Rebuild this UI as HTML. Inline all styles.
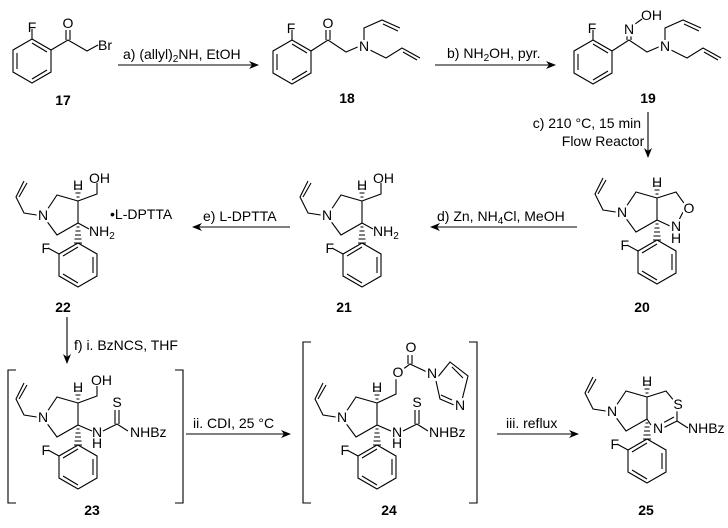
<!DOCTYPE html>
<html><head><meta charset="utf-8"><style>
html,body{margin:0;padding:0;background:#fff}
svg{display:block}
text{font-family:"Liberation Sans",Arial,sans-serif;font-size:14px;fill:#000}
.b{font-weight:bold}
.m{text-anchor:middle}
.e{text-anchor:end}
.at{paint-order:stroke;stroke:#fff;stroke-width:5px;stroke-linejoin:round}
</style></head><body>
<svg width="728" height="528" viewBox="0 0 728 528" xmlns="http://www.w3.org/2000/svg">
<defs>
<marker id="ah" markerWidth="10" markerHeight="8" refX="9" refY="4" orient="auto" markerUnits="userSpaceOnUse"><path d="M0,0 L10,4 L0,8 L3,4 Z" fill="#000"/></marker>
<g id="arA" fill="none" stroke="#000" stroke-width="1.1">
<path d="M0,-22 L19,-11 L19,11 L0,22 L-19,11 L-19,-11 Z"/>
<path d="M-15,-8 L-15,8 M0,18 L15,9 M0,-18 L15,-9"/>
<path d="M0,-22 L0,-32"/>
</g>
<g id="arB" fill="none" stroke="#000" stroke-width="1.1">
<path d="M0,-22 L19,-11 L19,11 L0,22 L-19,11 L-19,-11 Z"/>
<path d="M15,-8 L15,8 M0,18 L-15,9 M0,-18 L-15,-9"/>
<path d="M-19,-11 L-30,-17"/>
</g>
<g id="pyr" fill="none" stroke="#000" stroke-width="1.1">
<path d="M0,0 L0,-22 L-21,-28 L-35,-7 L-21,12 Z"/>
<path d="M-35,-7 L-54,-10 L-62,-26 L-54,-42 M-59,-26 L-51,-40"/>
<path d="M-1.5,4 L1.5,4 M-2.5,8 L2.5,8 M-3,12 L3,12 M-3.5,16 L3.5,16 M-4,20 L4,20" stroke-width="1"/>
<path d="M-1.5,-26 L1.5,-26 M-2.5,-30 L2.5,-30 M-3,-34 L3,-34" stroke-width="1"/>
</g>
</defs>

<g fill="none" stroke="#000" stroke-width="1.1">
<use href="#arA" x="32" y="61"/>
<path d="M51,50 L68,40 L87,51 L98,45 M66,40 L66,30 M70,40 L70,30"/>
<use href="#arA" x="292" y="62"/>
<path d="M311,51 L328,40 L346,52 L360,46 M326,40 L326,30 M330,40 L330,30"/>
<path d="M364,40 L364,28 L382,20 L400,28 M383,24 L398,31 M370,50 L386,58 L402,48 L420,58 M403,52 L417,60"/>
<use href="#arA" x="593" y="62"/>
<path d="M612,51 L629,40 L647,52 L661,46 M627,40 L627,32 M631,40 L631,32 M635,24 L642,19"/>
<path d="M665,40 L665,28 L683,20 L701,28 M684,24 L699,31 M671,50 L687,58 L703,48 L721,58 M704,52 L718,60"/>
<path d="M118,65 L258,65" marker-end="url(#ah)"/>
<path d="M435,65 L555,65" marker-end="url(#ah)"/>
<path d="M648,112 L648,157" marker-end="url(#ah)"/>
<path d="M577,227 L431,227" marker-end="url(#ah)"/>
<path d="M290,227 L193,227" marker-end="url(#ah)"/>
<path d="M67,317 L67,363" marker-end="url(#ah)"/>
<path d="M186,434 L290,434" marker-end="url(#ah)"/>
<path d="M497,434 L578,434" marker-end="url(#ah)"/>

<use href="#pyr" x="657" y="220"/>
<use href="#arB" x="657" y="262"/>
<path d="M657,198 L676,192 L686,206 L678,222 M670,226 L657,220"/>
<use href="#pyr" x="362" y="223"/>
<use href="#arB" x="362" y="265"/>
<path d="M362,201 L381,194 L381,183 M362,223 L373,229"/>
<use href="#pyr" x="78" y="223"/>
<use href="#arB" x="78" y="265"/>
<path d="M78,201 L97,194 L97,183 M78,223 L89,229"/>
<use href="#pyr" x="78" y="425"/>
<use href="#arB" x="78" y="467"/>
<path d="M78,403 L97,396 L97,386 M78,425 L92,431 M103,431 L117,424 L128,431 M115,424 L115,410 M119,424 L119,410"/>
<path d="M16,370 L8,370 L8,503 L16,503 M175,370 L183,370 L183,503 L175,503"/>
<use href="#pyr" x="377" y="425"/>
<use href="#arB" x="377" y="467"/>
<path d="M377,403 L396,394 L396,379 M402,370 L410,364 L427,372 M408,364 L408,355 M412,364 L412,355"/>
<path d="M437,378 L450,362 L468,376 L462,400 M452,367 L463,378 M454,405 L440,399 L436,381 M441,395 L452,400"/>
<path d="M377,425 L391,431 M403,431 L417,424 L428,431 M415,424 L415,410 M419,424 L419,410"/>
<path d="M311,342 L303,342 L303,503 L311,503 M469,342 L477,342 L477,503 L469,503"/>
<use href="#pyr" x="647" y="419"/>
<use href="#arB" x="647" y="461"/>
<path d="M647,397 L666,391 L675,402 M677,411 L677,421 L663,428 M674,417 L663,423 M647,419 L651,425 M677,421 L688,428"/>
</g>

<g>
<text class="m" x="32" y="32">F</text>
<text class="m" x="68" y="28">O</text>
<text x="98" y="50">Br</text>
<text class="m" x="291" y="33">F</text>
<text class="m" x="328" y="28">O</text>
<text class="m at" x="364" y="51">N</text>
<text class="m" x="592" y="33">F</text>
<text class="m at" x="629" y="34">N</text>
<text x="641" y="20">OH</text>
<text class="m at" x="665" y="51">N</text>

<text class="m at" x="622" y="217">N</text>
<text class="m" x="657" y="187">H</text>
<text class="m at" x="689" y="213">O</text>
<text class="m at" x="676" y="231">N</text>
<text class="m" x="676" y="243">H</text>
<text class="e" x="629" y="250">F</text>

<text class="m at" x="327" y="220">N</text>
<text class="m" x="362" y="190">H</text>
<text x="373" y="183">OH</text>
<text x="373" y="236">NH<tspan font-size="10" dy="3">2</tspan></text>
<text class="e" x="334" y="253">F</text>

<text class="m at" x="43" y="220">N</text>
<text class="m" x="78" y="190">H</text>
<text x="89" y="183">OH</text>
<text x="89" y="236">NH<tspan font-size="10" dy="3">2</tspan></text>
<text x="110" y="219">•L-DPTTA</text>
<text class="e" x="50" y="253">F</text>

<text class="m at" x="43" y="422">N</text>
<text class="m" x="78" y="392">H</text>
<text x="91" y="385">OH</text>
<text class="m" x="97" y="437">N</text>
<text class="m" x="97" y="448">H</text>
<text class="m" x="117" y="407">S</text>
<text x="130" y="437">NHBz</text>
<text class="e" x="50" y="455">F</text>

<text class="m at" x="342" y="422">N</text>
<text class="m" x="377" y="392">H</text>
<text class="m at" x="398" y="377">O</text>
<text class="m" x="411" y="352">O</text>
<text class="m at" x="432" y="378">N</text>
<text class="m at" x="460" y="410">N</text>
<text class="m" x="397" y="437">N</text>
<text class="m" x="397" y="448">H</text>
<text class="m" x="417" y="407">S</text>
<text x="429" y="437">NHBz</text>
<text class="e" x="349" y="455">F</text>

<text class="m at" x="612" y="416">N</text>
<text class="m" x="647" y="386">H</text>
<text class="m at" x="678" y="409">S</text>
<text class="m at" x="658" y="433">N</text>
<text x="688" y="433">NHBz</text>
<text class="e" x="619" y="449">F</text>
</g>

<text x="123" y="59">a) (allyl)<tspan font-size="10" dy="3">2</tspan><tspan dy="-3">NH, EtOH</tspan></text>
<text x="447" y="58">b) NH<tspan font-size="10" dy="3">2</tspan><tspan dy="-3">OH, pyr.</tspan></text>
<text class="e" x="641" y="128">c) 210 °C, 15 min</text>
<text class="m" x="603" y="146">Flow Reactor</text>
<text x="437" y="221">d) Zn, NH<tspan font-size="10" dy="3">4</tspan><tspan dy="-3">Cl, MeOH</tspan></text>
<text x="203" y="221">e) L-DPTTA</text>
<text x="74" y="350">f) i. BzNCS, THF</text>
<text x="193" y="428">ii. CDI, 25 °C</text>
<text x="506" y="428">iii. reflux</text>

<text class="b m" x="63" y="105">17</text>
<text class="b m" x="347" y="103">18</text>
<text class="b m" x="648" y="103">19</text>
<text class="b m" x="642" y="312">20</text>
<text class="b m" x="344" y="312">21</text>
<text class="b m" x="63" y="312">22</text>
<text class="b m" x="92" y="515">23</text>
<text class="b m" x="389" y="515">24</text>
<text class="b m" x="646" y="515">25</text>
</svg>
</body></html>
